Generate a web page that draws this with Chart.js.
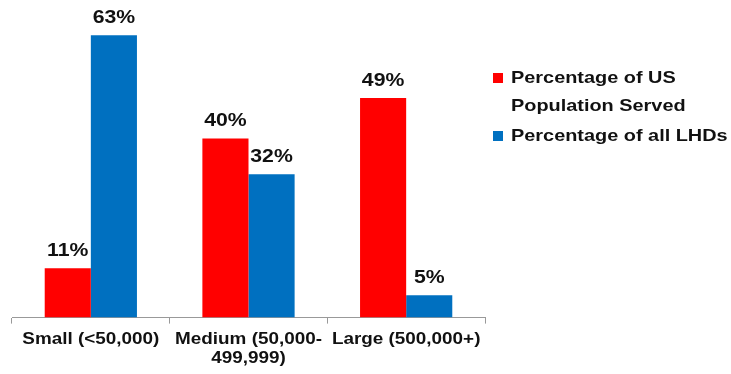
<!DOCTYPE html>
<html>
<head>
<meta charset="utf-8">
<script src="https://cdn.jsdelivr.net/npm/chart.js@4"></script>
<style>
  body { margin: 0; background: #fff; font-family: "Liberation Sans", Arial, sans-serif; }
  #wrap { position: relative; width: 731px; height: 374px; }
  #legend { position: absolute; left: 493px; top: 64px; font-weight: bold; font-size: 17px; color: #111; line-height: 28px; }
  .item { display: flex; align-items: flex-start; margin-bottom: 2px; white-space: nowrap; }
  .swatch { width: 10px; height: 10px; margin: 9px 8px 0 0; flex: none; }
  .txt { display: inline-block; transform: scaleX(1.17); transform-origin: left top; }
</style>
</head>
<body>
<div id="wrap">
  <canvas id="chart" width="731" height="374"></canvas>
  <div id="legend"></div>
</div>
<script>
const categories = [['Small (<50,000)'], ['Medium (50,000-', '499,999)'], ['Large (500,000+)']];
const seriesNames = [['Percentage of US', 'Population Served'], ['Percentage of all LHDs']];
const populationServed = [11, 40, 49];
const allLHDs = [63, 32, 5];
const colors = ['#ff0000', '#0070c0'];

const FONT = '"Liberation Sans", Arial, sans-serif';
const STRETCH = 1.18;

// the text in this chart is set a little wide
function wideText(ctx, text, x, y) {
  ctx.save();
  ctx.translate(x, y);
  ctx.scale(STRETCH, 1);
  ctx.fillText(text, 0, 0);
  ctx.restore();
}

// percent labels above each bar, category names under the axis
const textLayer = {
  id: 'textLayer',
  afterDraw(chart) {
    const ctx = chart.ctx;
    ctx.save();
    ctx.fillStyle = '#111';
    ctx.textAlign = 'center';

    ctx.font = 'bold 18px ' + FONT;
    ctx.textBaseline = 'bottom';
    chart.data.datasets.forEach((ds, i) => {
      chart.getDatasetMeta(i).data.forEach((bar, j) => {
        wideText(ctx, ds.data[j] + '%', bar.x, bar.y - 8);
      });
    });

    const xs = chart.scales.x;
    ctx.font = 'bold 16px ' + FONT;
    ctx.textBaseline = 'top';
    categories.forEach((lines, i) => {
      const x = xs.getPixelForValue(i);
      lines.forEach((line, k) => {
        wideText(ctx, line, x, xs.top + 14 + k * 19);
      });
    });
    ctx.restore();
  }
};

new Chart(document.getElementById('chart'), {
  type: 'bar',
  data: {
    labels: categories,
    datasets: [
      { label: seriesNames[0].join(' '), data: populationServed, backgroundColor: colors[0] },
      { label: seriesNames[1].join(' '), data: allLHDs, backgroundColor: colors[1] }
    ]
  },
  options: {
    responsive: false,
    animation: false,
    layout: { padding: { left: 12, right: 246, top: 4, bottom: 0 } },
    datasets: { bar: { categoryPercentage: 0.585, barPercentage: 1 } },
    plugins: { legend: { display: false }, tooltip: { enabled: false } },
    scales: {
      x: {
        offset: true,
        grid: { display: true, drawOnChartArea: false, offset: true, tickLength: 6, color: '#999' },
        border: { color: '#999', width: 1 },
        ticks: {
          color: 'rgba(0,0,0,0)',
          padding: 6,
          maxRotation: 0,
          font: { family: FONT, size: 16, weight: 'bold', lineHeight: 1.2 }
        }
      },
      y: { display: false, min: 0, max: 70 }
    }
  },
  plugins: [textLayer]
});

// legend with the wrapped first entry
const legend = document.getElementById('legend');
seriesNames.forEach((name, i) => {
  const item = document.createElement('div');
  item.className = 'item';
  const sw = document.createElement('span');
  sw.className = 'swatch';
  sw.style.background = colors[i];
  const txt = document.createElement('span');
  txt.className = 'txt';
  txt.innerHTML = name.join('<br>');
  item.appendChild(sw);
  item.appendChild(txt);
  legend.appendChild(item);
});
</script>
</body>
</html>
